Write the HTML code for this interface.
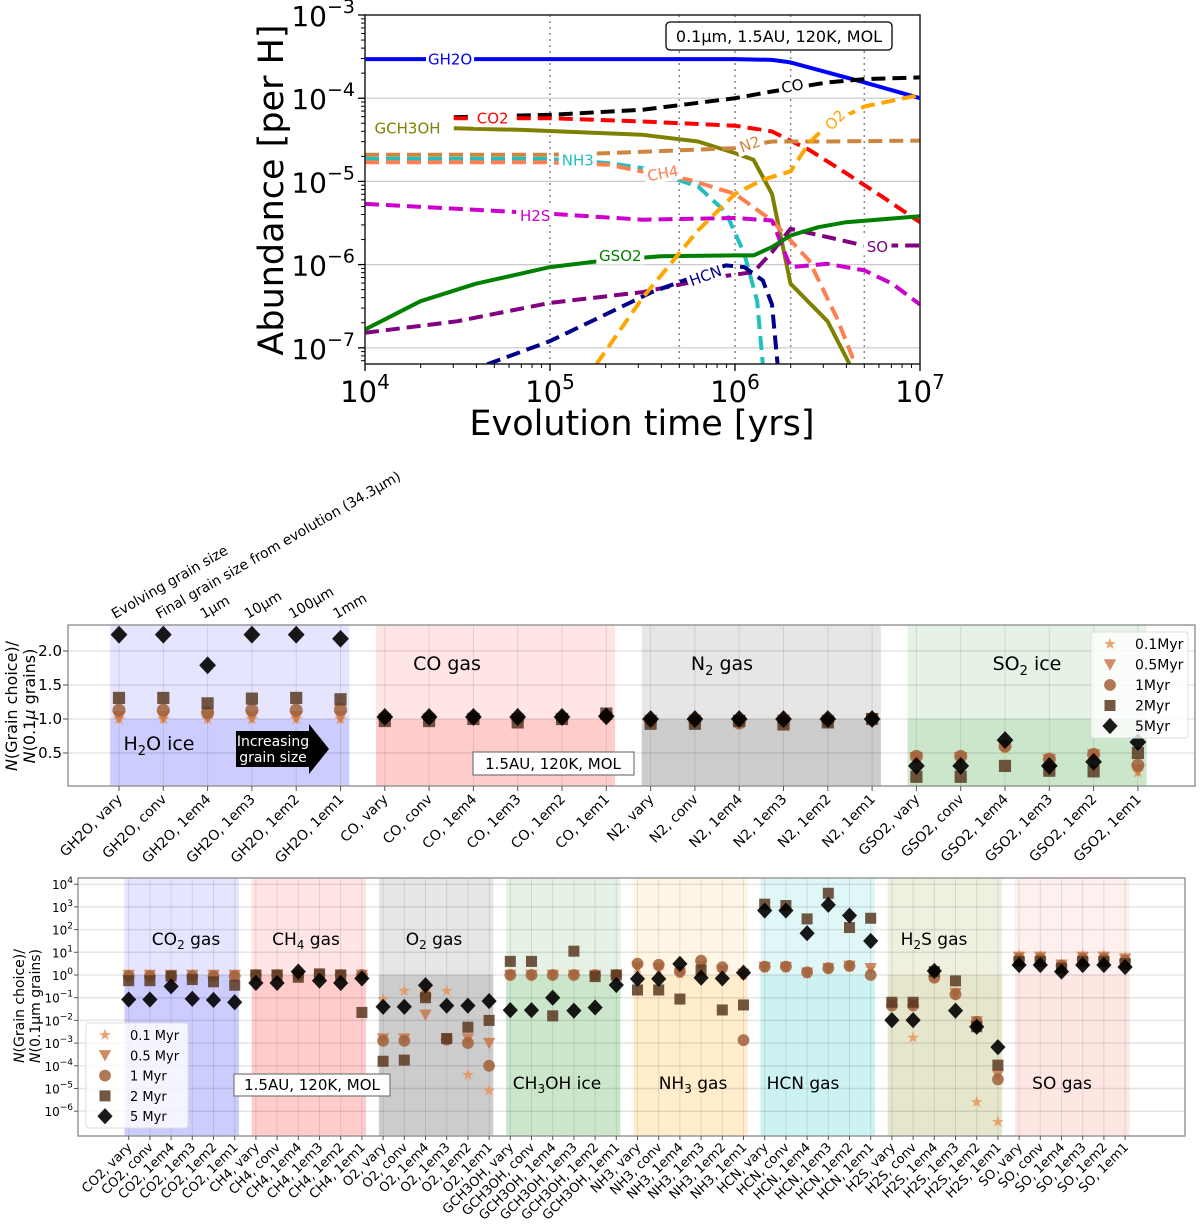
<!DOCTYPE html>
<html><head><meta charset="utf-8"><style>
html,body{margin:0;padding:0;background:#fff}
svg{display:block;font-family:"DejaVu Sans","Liberation Sans",sans-serif}
</style></head><body>
<svg id="fig" width="1200" height="1228" viewBox="0 0 1200 1228" xmlns="http://www.w3.org/2000/svg">
<g id="top"></g>
<g id="mid"></g>
<g id="bot"></g>
</svg>
<script>
// ---------- TOP CHART DATA (log10 time, log10 abundance) ----------
const gh2oT=[4,4.3,4.65,6.0,6.2,6.3,6.5,6.7,7.0];
const gh2oA=[-3.53,-3.53,-3.53,-3.53,-3.54,-3.57,-3.69,-3.81,-4.0];
const coT=[4.48,5.0,5.5,6.0,6.2,6.5,6.7,7.0];
const coA=[-4.23,-4.2,-4.14,-4.0,-3.92,-3.81,-3.77,-3.75];
const co2T=[4.48,5.0,5.5,6.0,6.2,6.4,6.6,6.8,7.0];
const co2A=[-4.24,-4.24,-4.28,-4.33,-4.4,-4.62,-4.9,-5.19,-5.49];
const ch3ohT=[4.48,4.83,5.5,5.8,6.0,6.1,6.2,6.3,6.5,6.62];
const ch3ohA=[-4.36,-4.38,-4.44,-4.52,-4.66,-4.74,-5.15,-6.23,-6.68,-7.2];
const n2T=[4.0,4.98,5.32,6.0,6.2,6.5,7.0];
const n2A=[-4.68,-4.68,-4.66,-4.6,-4.52,-4.52,-4.51];
const nh3T=[4.0,4.98,5.32,5.5,5.8,5.95,6.05,6.12,6.15];
const nh3A=[-4.73,-4.73,-4.78,-4.84,-5.06,-5.37,-5.87,-6.44,-7.2];
const ch4T=[4.0,4.98,5.32,5.45,5.75,6.0,6.2,6.4,6.55,6.65];
const ch4A=[-4.77,-4.77,-4.8,-4.86,-4.98,-5.15,-5.47,-5.95,-6.64,-7.2];
const h2sT=[4.0,5.0,5.5,6.0,6.2,6.3,6.5,6.7,6.85,7.0];
const h2sA=[-5.27,-5.39,-5.46,-5.44,-5.47,-6.03,-5.99,-6.07,-6.23,-6.48];
const soT=[4.0,4.5,5.0,5.5,5.9,6.1,6.2,6.3,6.5,6.7,7.0];
const soA=[-6.82,-6.68,-6.46,-6.33,-6.15,-6.09,-5.85,-5.57,-5.67,-5.77,-5.77];
const gso2T=[4.0,4.3,4.6,5.0,5.3,5.6,6.0,6.1,6.2,6.3,6.45,6.6,7.0];
const gso2A=[-6.78,-6.44,-6.23,-6.03,-5.95,-5.9,-5.89,-5.89,-5.79,-5.65,-5.55,-5.49,-5.42];
const hcnT=[4.66,5.0,5.3,5.55,5.95,6.05,6.15,6.2,6.23];
const hcnA=[-7.2,-6.92,-6.6,-6.33,-6.01,-6.03,-6.19,-6.48,-7.2];
const o2T=[5.25,5.5,5.8,6.0,6.15,6.3,6.4,6.5,6.7,7.0];
const o2A=[-7.2,-6.4,-5.59,-5.15,-4.98,-4.88,-4.54,-4.32,-4.1,-3.96];
const xTickExp=[4,5,6,7];
const yTickExp=[-3,-4,-5,-6,-7];
const vLines=[1e5,5e5,1e6,2e6,5e6];

// ---------- MIDDLE CHART DATA (linear ratio) ----------
const midCats=["GH2O, vary","GH2O, conv","GH2O, 1em4","GH2O, 1em3","GH2O, 1em2","GH2O, 1em1","CO, vary","CO, conv","CO, 1em4","CO, 1em3","CO, 1em2","CO, 1em1","N2, vary","N2, conv","N2, 1em4","N2, 1em3","N2, 1em2","N2, 1em1","GSO2, vary","GSO2, conv","GSO2, 1em4","GSO2, 1em3","GSO2, 1em2","GSO2, 1em1"];
const mStar=[1,1,1,1,1,1, 1.02,1.02,1.02,1.02,1.02,1.02, 1,1,1,1,1,1.03, 0.42,0.42,0.56,0.38,0.45,0.22];
const mTri=[1.03,1.03,1.03,1.03,1.03,1.03, 1,1,1,1,1,1.02, 0.98,0.98,0.98,0.98,0.98,1, 0.43,0.43,0.6,0.4,0.47,0.25];
const mCirc=[1.13,1.13,1.09,1.13,1.13,1.14, 1.02,1.02,1.03,1,1.02,1.05, 0.97,0.97,0.94,0.96,0.97,1, 0.45,0.45,0.6,0.41,0.48,0.32];
const mSq=[1.31,1.31,1.23,1.3,1.31,1.29, 0.97,0.97,1,0.95,1,1.08, 0.93,0.93,0.97,0.92,0.95,1, 0.15,0.15,0.31,0.24,0.23,0.5];
const mDia=[2.24,2.24,1.79,2.24,2.24,2.18, 1.03,1.03,1.03,1.03,1.03,1.04, 1,1,1,1,1,1, 0.31,0.31,0.69,0.31,0.37,0.66];
const midYTicks=[0.5,1.0,1.5,2.0];
const midTopLabels=["Evolving grain size","Final grain size from evolution (34.3μm)","1μm","10μm","100μm","1mm"];

// ---------- BOTTOM CHART DATA (log10 ratio) ----------
const botCats=["CO2, vary","CO2, conv","CO2, 1em4","CO2, 1em3","CO2, 1em2","CO2, 1em1","CH4, vary","CH4, conv","CH4, 1em4","CH4, 1em3","CH4, 1em2","CH4, 1em1","O2, vary","O2, conv","O2, 1em4","O2, 1em3","O2, 1em2","O2, 1em1","GCH3OH, vary","GCH3OH, conv","GCH3OH, 1em4","GCH3OH, 1em3","GCH3OH, 1em2","GCH3OH, 1em1","NH3, vary","NH3, conv","NH3, 1em4","NH3, 1em3","NH3, 1em2","NH3, 1em1","HCN, vary","HCN, conv","HCN, 1em4","HCN, 1em3","HCN, 1em2","HCN, 1em1","H2S, vary","H2S, conv","H2S, 1em4","H2S, 1em3","H2S, 1em2","H2S, 1em1","SO, vary","SO, conv","SO, 1em4","SO, 1em3","SO, 1em2","SO, 1em1"];
const bStar=[0,0,0,0,0,0, 0,0,0,0,0,0, -1.07,-0.7,-0.7,-0.7,-4.4,-5.1, 0,0,0,0,0,0, 0.3,0.2,0.05,0.3,0.1,0, 0.3,0.3,0.05,0.25,0.35,0.3, -1.3,-2.76,-0.1,-0.85,-5.6,-6.47, 0.88,0.85,0.5,0.88,0.88,0.78];
const bTri=[0,0,0,0,0,0, 0,0,0,0,0,0, -2.8,-2.8,-1.75,-2.8,-2.8,-3.0, 0,0,0,0,0,0, 0.35,0.3,0.1,0.4,0.2,0.05, 0.35,0.35,0.1,0.3,0.4,0.3, -1.3,-1.3,-0.05,-0.8,-2.05,-4.4, 0.8,0.8,0.45,0.8,0.8,0.72];
const bCirc=[-0.05,-0.05,-0.05,-0.05,-0.05,-0.05, 0,0,0,0,0,0, -2.9,-2.9,-0.9,-2.85,-3.0,-4.0, 0,0,0,0,0,0, 0.5,0.45,0.15,0.63,0.34,-2.87, 0.37,0.37,0.12,0.3,0.4,0, -1.35,-1.35,-0.12,-0.85,-2.06,-4.6, 0.7,0.7,0.4,0.7,0.7,0.62];
const bSq=[-0.25,-0.25,-0.05,-0.2,-0.3,-0.45, 0,0,-0.1,0.05,0,-1.65, -3.8,-3.75,-1.0,-2.8,-2.3,-2.0, 0.6,0.6,-1.8,1.05,-0.07,0, -0.66,-0.66,-1.06,0.22,-1.54,-1.32, 3.12,3.06,2.47,3.6,2.09,2.5, -1.2,-1.2,0.15,-0.26,-2.28,-3.97, 0.6,0.6,0.3,0.6,0.6,0.5];
const bDia=[-1.08,-1.08,-0.5,-1.05,-1.1,-1.2, -0.35,-0.35,0.15,-0.25,-0.35,-0.15, -1.4,-1.4,-0.45,-1.35,-1.35,-1.15, -1.55,-1.55,-1.0,-1.57,-1.43,-0.44, -0.17,-0.17,0.49,-0.12,-0.15,0.1, 2.84,2.84,1.84,3.09,2.62,1.5, -1.99,-1.99,0.18,-1.57,-2.28,-3.18, 0.44,0.44,0.15,0.44,0.44,0.35];
const botYTicks=[4,3,2,1,0,-1,-2,-3,-4,-5,-6];

const NS="http://www.w3.org/2000/svg";
function mk(parent,tag,attrs,text){const e=document.createElementNS(NS,tag);for(const k in attrs)e.setAttribute(k,attrs[k]);if(text!==undefined)e.textContent=text;parent.appendChild(e);return e;}
const markerCols=["#e8955a","#c8784a","#a0603a","#5a3a22","#000000"];
const markerTypes=["star","tri","circ","sq","dia"];
function marker(g,type,x,y,col,s){
  s=s||1;let e;
  if(type==="star"){let p=[];for(let k=0;k<10;k++){const r=(k%2?2.6:6.5)*s,a=-Math.PI/2+k*Math.PI/5;p.push((x+r*Math.cos(a)).toFixed(1)+","+(y+r*Math.sin(a)).toFixed(1));}e=mk(g,"polygon",{points:p.join(" "),fill:col,"fill-opacity":0.85});}
  else if(type==="tri"){e=mk(g,"polygon",{points:`${x-6.5*s},${y-5.5*s} ${x+6.5*s},${y-5.5*s} ${x},${y+6.5*s}`,fill:col,"fill-opacity":0.85});}
  else if(type==="circ"){e=mk(g,"circle",{cx:x,cy:y,r:6.2*s,fill:col,"fill-opacity":0.85});}
  else if(type==="sq"){e=mk(g,"rect",{x:x-5.8*s,y:y-5.8*s,width:11.6*s,height:11.6*s,fill:col,"fill-opacity":0.85});}
  else {e=mk(g,"polygon",{points:`${x},${y-8.5*s} ${x+8*s},${y} ${x},${y+8.5*s} ${x-8*s},${y}`,fill:col,"fill-opacity":0.9});}
  return e;
}

// ================= TOP =================
(function(){
  const g=document.getElementById('top');
  const X=lt=>365+(lt-4)*185, Y=la=>15+(-3-la)*83.2;
  const L=365,R=920,T=15,B=364;
  yTickExp.forEach(e=>{if(e<-3){const l=mk(g,"line",{x1:L,x2:R,y1:Y(e),y2:Y(e),stroke:"#c8c8c8","stroke-width":1.2});}});
  vLines.forEach(v=>{const l=mk(g,"line",{x1:X(Math.log10(v)),x2:X(Math.log10(v)),y1:T,y2:B,stroke:"#888","stroke-width":1.5,"stroke-dasharray":"2,4"});});
  const series=[
    ["GH2O",gh2oT,gh2oA,"#0000ff",null],
    ["CO",coT,coA,"#000",[14,7]],
    ["CO2",co2T,co2A,"#ff0000",[14,7]],
    ["GCH3OH",ch3ohT,ch3ohA,"#808000",null],
    ["N2",n2T,n2A,"#cd853f",[14,7]],
    ["NH3",nh3T,nh3A,"#20c0c0",[14,7]],
    ["CH4",ch4T,ch4A,"#ff7f50",[14,7]],
    ["H2S",h2sT,h2sA,"#cc00cc",[14,7]],
    ["SO",soT,soA,"#800080",[14,7]],
    ["GSO2",gso2T,gso2A,"#008000",null],
    ["HCN",hcnT,hcnA,"#00008b",[14,7]],
    ["O2",o2T,o2A,"#ffa500",[14,7]]
  ];
  const cp=mk(g,"clipPath",{id:"topclip"});mk(cp,"rect",{x:L,y:T,width:R-L,height:B-T});
  const lg=mk(g,"g",{"clip-path":"url(#topclip)"});
  series.forEach(s=>{
    const d=s[1].map((t,i)=>(i?"L":"M")+X(t).toFixed(1)+","+Y(s[2][i]).toFixed(1)).join(" ");
    const a={d:d,fill:"none",stroke:s[3],"stroke-width":4,"stroke-linejoin":"round"};
    if(s[4])a["stroke-dasharray"]=s[4].join(",");
    const p=mk(lg,"path",a);
    
    
  });
  const labs=[["GH2O",4.46,-3.53,"#0000ff",0],["CO",6.31,-3.85,"#000",-10],["CO2",4.69,-4.24,"#ff0000",0],["GCH3OH",4.23,-4.36,"#808000",0],["NH3",5.15,-4.74,"#20c0c0",0],["CH4",5.61,-4.9,"#ff7f50",-10],["N2",6.08,-4.55,"#cd853f",-20],["O2",6.54,-4.26,"#ffa500",-45],["H2S",4.92,-5.41,"#cc00cc",0],["SO",6.77,-5.78,"#800080",0],["GSO2",5.38,-5.89,"#008000",0],["HCN",5.84,-6.13,"#00008b",-20]];
  labs.forEach(l=>{const x=X(l[1]),y=Y(l[2]);
    const w=l[0].length*10+8;
    mk(g,"rect",{x:x-w/2,y:y-9,width:w,height:18,fill:"#fff",transform:`rotate(${l[4]} ${x} ${y})`});
    const tt=mk(g,"text",{x:x,y:y+5.5,"text-anchor":"middle","font-size":15,fill:l[3],transform:`rotate(${l[4]} ${x} ${y})`},l[0]);
    });
  mk(g,"rect",{x:L,y:T,width:R-L,height:B-T,fill:"none",stroke:"#222","stroke-width":1.5});
  xTickExp.forEach(e=>{const x=X(e);mk(g,"line",{x1:x,x2:x,y1:B,y2:B+7,stroke:"#000","stroke-width":1.3});
    const t=mk(g,"text",{x:x,y:B+38,"text-anchor":"middle","font-size":29});
    mk(t,"tspan",{},"10");mk(t,"tspan",{dy:-13,"font-size":20},String(e));
    if(e<7)for(let k=2;k<10;k++){const xx=X(e+Math.log10(k));mk(g,"line",{x1:xx,x2:xx,y1:B,y2:B+4,stroke:"#000","stroke-width":1});}});
  yTickExp.forEach(e=>{const y=Y(e);mk(g,"line",{x1:L-7,x2:L,y1:y,y2:y,stroke:"#000","stroke-width":1.3});
    const t=mk(g,"text",{x:L-10,y:y+11,"text-anchor":"end","font-size":28});
    mk(t,"tspan",{},"10");mk(t,"tspan",{dy:-13,"font-size":19},"−"+(-e));
    for(let k=2;k<10;k++){const yy=Y(e-1+Math.log10(k));if(yy<=B&&yy>=T)mk(g,"line",{x1:L-4,x2:L,y1:yy,y2:yy,stroke:"#000","stroke-width":1});}});
  const xt=mk(g,"text",{x:642,y:435,"text-anchor":"middle","font-size":35},"Evolution time [yrs]");
  
  const yt=mk(g,"text",{x:283,y:190,"text-anchor":"middle","font-size":35,transform:"rotate(-90 283 190)"},"Abundance [per H]");
  
  const bx=mk(g,"rect",{x:666,y:22,width:226,height:28,rx:4,fill:"#fff",stroke:"#000","stroke-width":1.3});
  
  mk(g,"text",{x:779,y:42,"text-anchor":"middle","font-size":16},"0.1μm, 1.5AU, 120K, MOL");
})();

// ================= MIDDLE =================
(function(){
  const g=document.getElementById('mid');
  const X=i=>119+44.3*i, Y=v=>787-68*v;
  const L=68,R=1195,T=625,B=786;
  const regs=[[0,"#0000ff"],[6,"#ff0000"],[12,"#808080"],[18,"#008000"]];
  regs.forEach(r=>{const x0=X(r[0]-0.2),x1=X(r[0]+5.2);
    const a=mk(g,"rect",{x:x0,y:T,width:x1-x0,height:Y(1)-T,fill:r[1],"fill-opacity":r[1]==="#808080"?0.2:0.1});
    const b=mk(g,"rect",{x:x0,y:Y(1),width:x1-x0,height:B-Y(1),fill:r[1],"fill-opacity":r[1]==="#808080"?0.4:0.2});});
  midYTicks.forEach(v=>{mk(g,"line",{x1:L,x2:R,y1:Y(v),y2:Y(v),stroke:"#000","stroke-opacity":0.1,"stroke-width":1.5});});
  midCats.forEach((c,i)=>{mk(g,"line",{x1:X(i),x2:X(i),y1:T,y2:B,stroke:"#000","stroke-opacity":0.1,"stroke-width":1});});
  const ser=[mStar,mTri,mCirc,mSq,mDia];
  ser.forEach((arr,s)=>arr.forEach((v,i)=>{const m=marker(g,markerTypes[s],X(i),Y(v),markerCols[s],1.05);
    }));
  mk(g,"rect",{x:L,y:T,width:R-L,height:B-T,fill:"none",stroke:"#999","stroke-width":1.5});
  midYTicks.forEach(v=>{mk(g,"line",{x1:L-5,x2:L,y1:Y(v),y2:Y(v),stroke:"#555"});
    const t=mk(g,"text",{x:L-6,y:Y(v)+5,"text-anchor":"end","font-size":15},v.toFixed(1));});
  midCats.forEach((c,i)=>{const x=X(i);mk(g,"line",{x1:x,x2:x,y1:B,y2:B+5,stroke:"#555"});
    const t=mk(g,"text",{x:x+4,y:B+14,"text-anchor":"end","font-size":14,transform:`rotate(-45 ${x+4} ${B+14})`},c);
    });
  midTopLabels.forEach((s,i)=>{const x=X(i)-4;const t=mk(g,"text",{x:x,y:619,"font-size":14,transform:`rotate(-30 ${x} 619)`},s);
    });
  const yl=mk(g,"text",{"font-size":16,transform:"translate(17 706) rotate(-90)","text-anchor":"middle"});
  
  mk(yl,"tspan",{"font-style":"italic"},"N");mk(yl,"tspan",{},"(Grain choice)/");
  const yl2=mk(g,"text",{"font-size":16,transform:"translate(35 706) rotate(-90)","text-anchor":"middle"});
  mk(yl2,"tspan",{"font-style":"italic"},"N");mk(yl2,"tspan",{},"(0.1");mk(yl2,"tspan",{"font-style":"italic"},"μ");mk(yl2,"tspan",{}," grains)");
  function reg(x,y,a,b,c){const t=mk(g,"text",{x:x,y:y,"text-anchor":"middle","font-size":19});mk(t,"tspan",{},a);if(b){mk(t,"tspan",{dy:5,"font-size":13},b);mk(t,"tspan",{dy:-5},c);}}
  reg(159,750,"H","2","O ice");reg(447,670,"CO gas");reg(722,670,"N","2"," gas");reg(1027,670,"SO","2"," ice");
  const ar=mk(g,"polygon",{points:"236,731 309,731 309,724 329,749 309,774 309,767 236,767",fill:"#000"});
  
  mk(g,"text",{x:273,y:746,"text-anchor":"middle","font-size":14,fill:"#fff"},"Increasing");
  mk(g,"text",{x:273,y:762,"text-anchor":"middle","font-size":14,fill:"#fff"},"grain size");
  const bx=mk(g,"rect",{x:473,y:752,width:161,height:23,fill:"#fff",stroke:"#777","stroke-width":1.2});
  
  mk(g,"text",{x:553,y:769,"text-anchor":"middle","font-size":15},"1.5AU, 120K, MOL");
  const lg=mk(g,"g",{});
  mk(lg,"rect",{x:1091,y:632,width:97,height:106,rx:3,fill:"#fff","fill-opacity":0.8,stroke:"#ddd"});
  ["0.1Myr","0.5Myr","1Myr","2Myr","5Myr"].forEach((s,k)=>{const y=644+k*20.5;marker(lg,markerTypes[k],1110,y,markerCols[k],0.95);
    const t=mk(lg,"text",{x:1135,y:y+5,"font-size":14},s);});
})();

// ================= BOTTOM =================
(function(){
  const g=document.getElementById('bot');
  const X=i=>128.7+21.2*i, Y=l=>975-22.7*l;
  const L=78,R=1185,T=878,B=1136;
  const regs=[[0,"#0000ff",0.1,0.2],[6,"#ff0000",0.1,0.2],[12,"#808080",0.2,0.4],[18,"#008000",0.1,0.2],[24,"#ffa500",0.1,0.2],[30,"#00bfbf",0.12,0.2],[36,"#808000",0.12,0.2],[42,"#fa8072",0.12,0.2]];
  regs.forEach(r=>{const x0=X(r[0]-0.2),x1=X(r[0]+5.2);
    const a=mk(g,"rect",{x:x0,y:T,width:x1-x0,height:Y(0)-T,fill:r[1],"fill-opacity":r[2]});
    const b=mk(g,"rect",{x:x0,y:Y(0),width:x1-x0,height:B-Y(0),fill:r[1],"fill-opacity":r[3]});});
  botYTicks.forEach(v=>{mk(g,"line",{x1:L,x2:R,y1:Y(v),y2:Y(v),stroke:"#000","stroke-opacity":0.1,"stroke-width":1.5});});
  botCats.forEach((c,i)=>{mk(g,"line",{x1:X(i),x2:X(i),y1:T,y2:B,stroke:"#000","stroke-opacity":0.1,"stroke-width":1});});
  const ser=[bStar,bTri,bCirc,bSq,bDia];
  ser.forEach((arr,s)=>arr.forEach((v,i)=>{const m=marker(g,markerTypes[s],X(i),Y(v),markerCols[s],0.95);
    }));
  mk(g,"rect",{x:L,y:T,width:R-L,height:B-T,fill:"none",stroke:"#999","stroke-width":1.5});
  botYTicks.forEach(v=>{mk(g,"line",{x1:L-4,x2:L,y1:Y(v),y2:Y(v),stroke:"#555"});
    const t=mk(g,"text",{x:L-5,y:Y(v)+5,"text-anchor":"end","font-size":12});
    mk(t,"tspan",{},"10");mk(t,"tspan",{dy:-6,"font-size":9},v<0?"−"+(-v):String(v));});
  botCats.forEach((c,i)=>{const x=X(i);mk(g,"line",{x1:x,x2:x,y1:B,y2:B+4,stroke:"#555"});
    const t=mk(g,"text",{x:x+4,y:B+12,"text-anchor":"end","font-size":13,transform:`rotate(-45 ${x+4} ${B+12})`},c);
    });
  const yl=mk(g,"text",{"font-size":14,transform:"translate(24 1006) rotate(-90)","text-anchor":"middle"});
  
  mk(yl,"tspan",{"font-style":"italic"},"N");mk(yl,"tspan",{},"(Grain choice)/");
  const yl2=mk(g,"text",{"font-size":14,transform:"translate(40 1006) rotate(-90)","text-anchor":"middle"});
  mk(yl2,"tspan",{"font-style":"italic"},"N");mk(yl2,"tspan",{},"(0.1μm grains)");
  function reg(x,y,a,b,c){const t=mk(g,"text",{x:x,y:y,"text-anchor":"middle","font-size":17});mk(t,"tspan",{},a);if(b){mk(t,"tspan",{dy:4,"font-size":12},b);mk(t,"tspan",{dy:-4},c);}}
  reg(186,945,"CO","2"," gas");reg(306,945,"CH","4"," gas");reg(434,945,"O","2"," gas");reg(557,1089,"CH","3","OH ice");
  reg(693,1089,"NH","3"," gas");reg(803,1089,"HCN gas");reg(934,945,"H","2","S gas");reg(1062,1089,"SO gas");
  const bx=mk(g,"rect",{x:234,y:1074,width:156,height:22,fill:"#fff",stroke:"#777","stroke-width":1.2});
  
  mk(g,"text",{x:312,y:1090,"text-anchor":"middle","font-size":15},"1.5AU, 120K, MOL");
  const lg=mk(g,"g",{});
  mk(lg,"rect",{x:86,y:1023,width:102,height:105,rx:3,fill:"#fff","fill-opacity":0.8,stroke:"#ddd"});
  ["0.1 Myr","0.5 Myr","1 Myr","2 Myr","5 Myr"].forEach((s,k)=>{const y=1035+k*20.3;marker(lg,markerTypes[k],105,y,markerCols[k],0.95);
    const t=mk(lg,"text",{x:130,y:y+5,"font-size":13},s);});
})();
</script>
</body></html>
